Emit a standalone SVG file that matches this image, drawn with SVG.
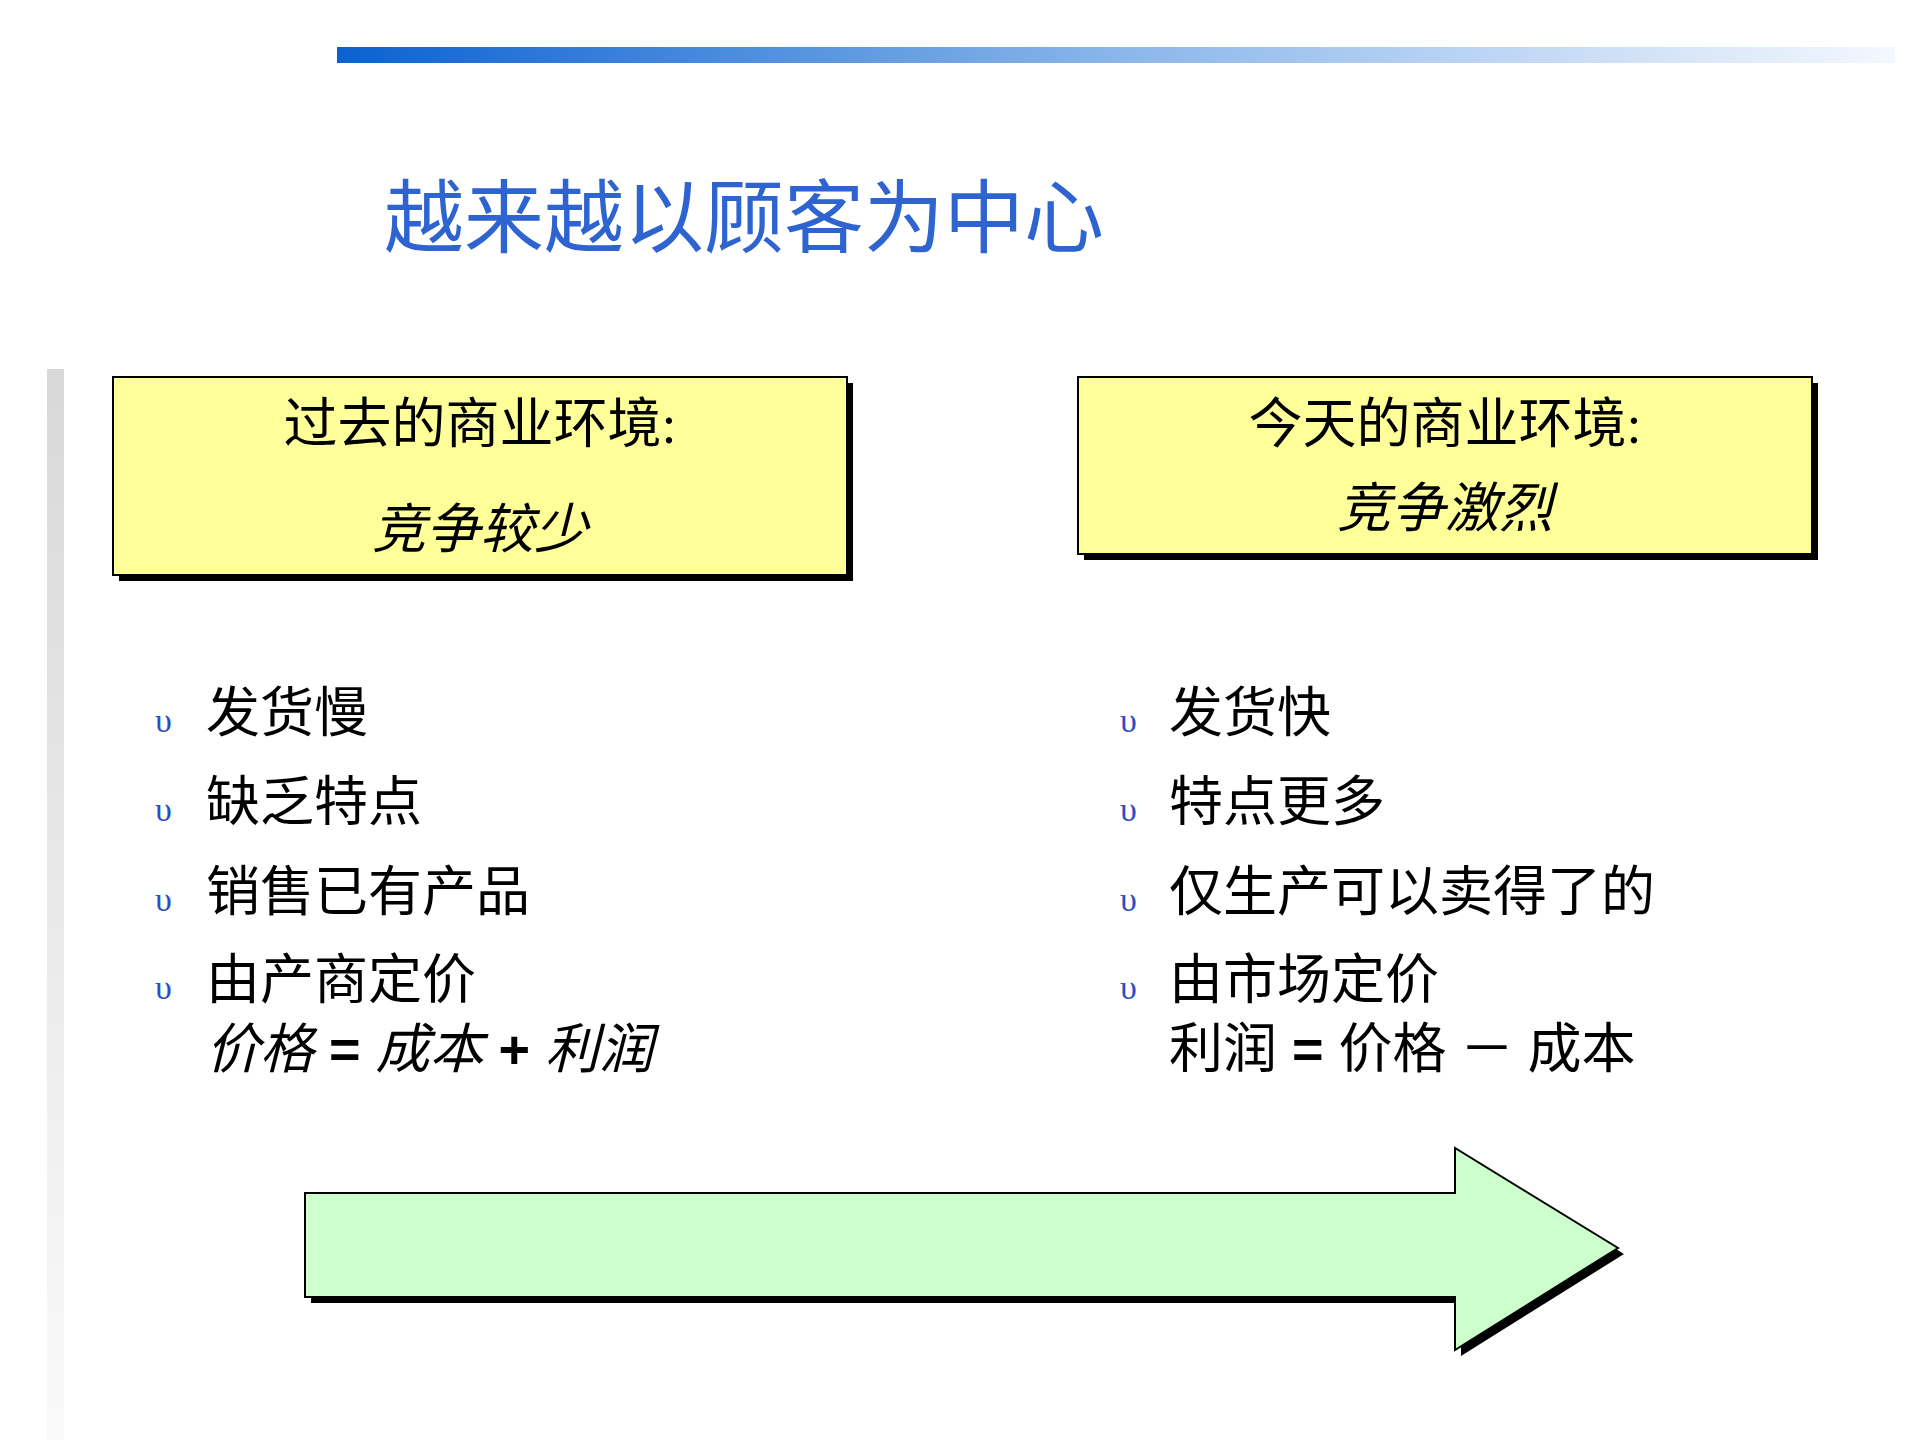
<svg xmlns="http://www.w3.org/2000/svg" width="1920" height="1440" viewBox="0 0 1920 1440">
<defs>
<linearGradient id="tb" x1="0" x2="1" y1="0" y2="0"><stop offset="0" stop-color="#0A62D0"/><stop offset="0.5" stop-color="#8AB6EA"/><stop offset="1" stop-color="#F4F8FE"/></linearGradient>
<linearGradient id="lb" x1="0" x2="0" y1="0" y2="1"><stop offset="0" stop-color="#D8D8D8"/><stop offset="1" stop-color="#FAFAFA"/></linearGradient>
<style>
.t{font-family:"Liberation Serif","Noto Sans CJK SC",serif;font-size:54px;fill:#000}
.i{font-style:italic}
.b{font-family:"Liberation Serif",serif;font-size:34px;fill:#2A4FC0}
.box{fill:#FFFF99;stroke:#000;stroke-width:2}
</style>
</defs>
<rect width="1920" height="1440" fill="#fff"/>
<rect x="337" y="47" width="1558" height="16" fill="url(#tb)"/>
<rect x="47" y="369" width="17" height="1071" fill="url(#lb)"/>
<text x="384" y="246" font-family="'Noto Sans CJK SC',sans-serif" font-size="80" fill="#2E64D0">越来越以顾客为中心</text>
<g id="past">
<rect x="119" y="383" width="734" height="198" fill="#000"/>
<rect class="box" x="113" y="377" width="734" height="198"/>
<text class="t" x="480" y="443" text-anchor="middle">过去的商业环境:</text>
<text class="t i" x="480" y="548" text-anchor="middle">竞争较少</text>
</g>
<g id="today">
<rect x="1084" y="383" width="734" height="177" fill="#000"/>
<rect class="box" x="1078" y="377" width="734" height="177"/>
<text class="t" x="1445" y="443" text-anchor="middle">今天的商业环境:</text>
<text class="t i" x="1445" y="527" text-anchor="middle">竞争激烈</text>
</g>
<g id="past-list">
<text class="b" x="155" y="732">υ</text><text class="t" x="206" y="732">发货慢</text>
<text class="b" x="155" y="821">υ</text><text class="t" x="206" y="821">缺乏特点</text>
<text class="b" x="155" y="911">υ</text><text class="t" x="206" y="911">销售已有产品</text>
<text class="b" x="155" y="999">υ</text><text class="t" x="206" y="999">由产商定价</text>
<text class="t" x="206" y="1068"><tspan class="i">价格</tspan><tspan font-family="'Liberation Sans',sans-serif" font-weight="bold"> = </tspan><tspan class="i">成本</tspan><tspan font-family="'Liberation Sans',sans-serif" font-weight="bold"> + </tspan><tspan class="i">利润</tspan></text>
</g>
<g id="today-list">
<text class="b" x="1120" y="732">υ</text><text class="t" x="1169" y="732">发货快</text>
<text class="b" x="1120" y="821">υ</text><text class="t" x="1169" y="821">特点更多</text>
<text class="b" x="1120" y="911">υ</text><text class="t" x="1169" y="911">仅生产可以卖得了的</text>
<text class="b" x="1120" y="999">υ</text><text class="t" x="1169" y="999">由市场定价</text>
<text class="t" x="1169" y="1068">利润<tspan font-family="'Liberation Sans',sans-serif" font-weight="bold"> = </tspan>价格 － 成本</text>
</g>
<g id="arrow">
<polygon points="311,1199 1461,1199 1461,1154 1624,1254 1461,1356 1461,1303 311,1303" fill="#000"/>
<polygon points="305,1193 1455,1193 1455,1148 1618,1248 1455,1350 1455,1297 305,1297" fill="#CCFFCC" stroke="#000" stroke-width="2"/>
</g>
</svg>
